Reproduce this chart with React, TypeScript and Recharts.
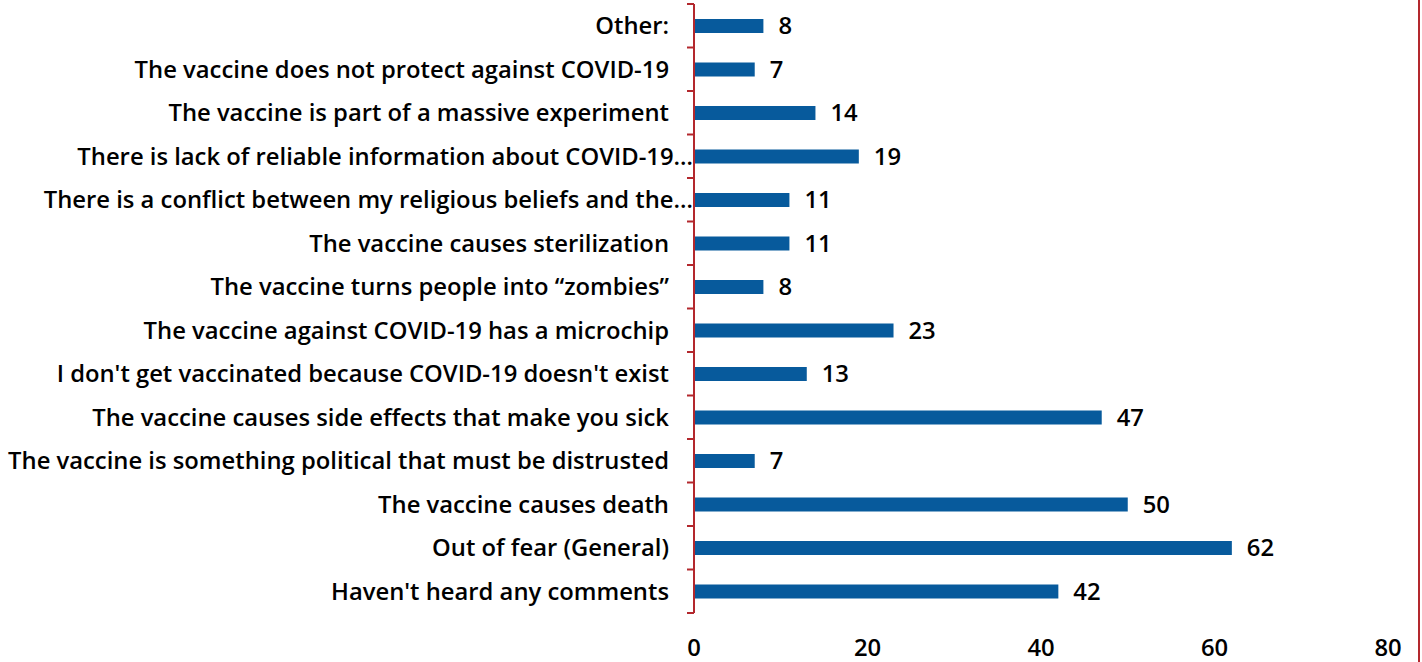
import { Bar, BarChart, LabelList, XAxis, YAxis } from 'recharts';

const reasons = [
  'Other:',
  'The vaccine does not protect against COVID-19',
  'The vaccine is part of a massive experiment',
  'There is lack of reliable information about COVID-19…',
  'There is a conflict between my religious beliefs and the…',
  'The vaccine causes sterilization',
  'The vaccine turns people into “zombies”',
  'The vaccine against COVID-19 has a microchip',
  "I don't get vaccinated because COVID-19 doesn't exist",
  'The vaccine causes side effects that make you sick',
  'The vaccine is something political that must be distrusted',
  'The vaccine causes death',
  'Out of fear (General)',
  "Haven't heard any comments",
];

const counts = [8, 7, 14, 19, 11, 11, 8, 23, 13, 47, 7, 50, 62, 42];

const xTicks = [0, 20, 40, 60, 80];

const data = reasons.map((reason, i) => ({ reason, count: counts[i] }));

const W = 1422;
const H = 662;
const TOP = 4;
const BOTTOM = 49;
const PLOT_H = H - TOP - BOTTOM;
const BAND = PLOT_H / reasons.length;
const AXIS_RED = '#b3282d';
const FONT = '"Open Sans", Lato, sans-serif';
const FONT_SIZE = 23.8;

const CategoryTick = (props: any) => {
  const { x, y, payload, index } = props;
  const label: string = payload.value;
  const axisX = x + 25;
  // Excel cut these two off with an ellipsis that runs up to the axis
  const clipped = label.endsWith('…');
  return (
    <g>
      <line x1={axisX - 7} x2={axisX} y1={y - BAND / 2} y2={y - BAND / 2} stroke={AXIS_RED} strokeWidth={2} />
      {index === reasons.length - 1 && (
        <line x1={axisX - 7} x2={axisX} y1={y + BAND / 2} y2={y + BAND / 2} stroke={AXIS_RED} strokeWidth={2} />
      )}
      <text
        x={clipped ? axisX - 1 : x}
        y={y}
        dy="0.35em"
        textAnchor="end"
        fill="#000"
        fontSize={FONT_SIZE}
        fontWeight={600}
        fontFamily={FONT}
      >
        {label}
      </text>
    </g>
  );
};

export default function App() {
  return (
    <div style={{ position: 'absolute', left: 0, top: 0, width: W, height: H, background: '#fff' }}>
      <BarChart
        width={W}
        height={H}
        data={data}
        layout="vertical"
        barCategoryGap={0}
        margin={{ top: TOP, right: 34, bottom: 0, left: 0 }}
      >
        <XAxis
          type="number"
          domain={[0, 80]}
          ticks={xTicks}
          axisLine={false}
          tickLine={false}
          height={BOTTOM}
          tickMargin={20}
          tick={{ fill: '#000', fontSize: FONT_SIZE, fontWeight: 600, fontFamily: FONT }}
        />
        <YAxis
          type="category"
          dataKey="reason"
          width={694}
          interval={0}
          tickSize={0}
          tickMargin={25}
          axisLine={{ stroke: AXIS_RED, strokeWidth: 2 }}
          tickLine={false}
          tick={<CategoryTick />}
        />
        <Bar dataKey="count" fill="#075a9c" barSize={14} isAnimationActive={false}>
          <LabelList
            dataKey="count"
            position="right"
            offset={15}
            fill="#000"
            fontSize={FONT_SIZE}
            fontWeight={600}
            fontFamily={FONT}
          />
        </Bar>
      </BarChart>
      <div style={{ position: 'absolute', left: 1418, top: 0, width: 2, height: H, background: AXIS_RED }} />
    </div>
  );
}
